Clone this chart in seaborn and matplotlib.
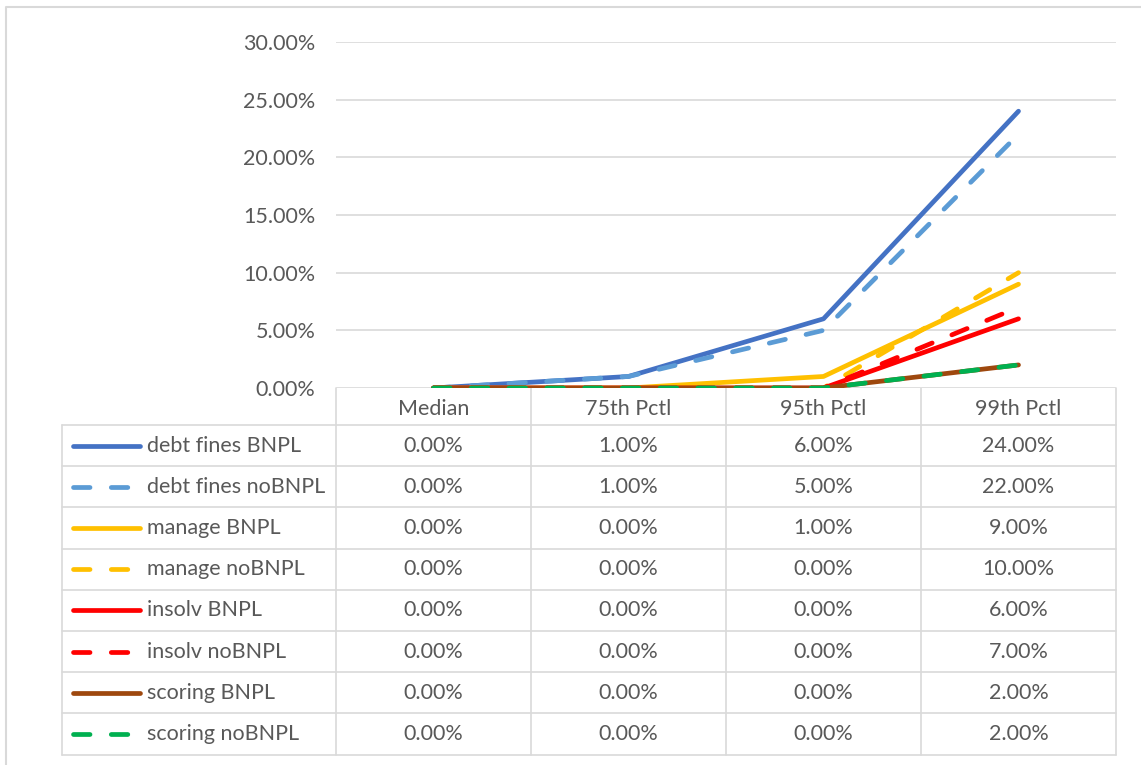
import numpy as np
import pandas as pd
import matplotlib
matplotlib.use("Agg")
import matplotlib.pyplot as plt
import seaborn as sns
from matplotlib.lines import Line2D

# Data
categories = ["Median", "75th Pctl", "95th Pctl", "99th Pctl"]
series_names = ["debt fines BNPL", "debt fines noBNPL", "manage BNPL", "manage noBNPL",
                "insolv BNPL", "insolv noBNPL", "scoring BNPL", "scoring noBNPL"]
debt_bnpl = [0.00, 0.01, 0.06, 0.24]
debt_nobnpl = [0.00, 0.01, 0.05, 0.22]
manage_bnpl = [0.00, 0.00, 0.01, 0.09]
manage_nobnpl = [0.00, 0.00, 0.00, 0.10]
insolv_bnpl = [0.00, 0.00, 0.00, 0.06]
insolv_nobnpl = [0.00, 0.00, 0.00, 0.07]
scoring_bnpl = [0.00, 0.00, 0.00, 0.02]
scoring_nobnpl = [0.00, 0.00, 0.00, 0.02]
colors = ["#4472c4", "#5b9bd5", "#ffc000", "#ffc000", "#ff0000", "#ff0000", "#9e480e", "#00b050"]
dashed = [False, True, False, True, False, True, False, True]

values = [debt_bnpl, debt_nobnpl, manage_bnpl, manage_nobnpl,
          insolv_bnpl, insolv_nobnpl, scoring_bnpl, scoring_nobnpl]
df = pd.DataFrame({"category": np.tile(categories, len(series_names)),
                   "series": np.repeat(series_names, len(categories)),
                   "value": np.concatenate(values)})

sns.set_style("white")
plt.rcParams['font.family'] = ['Lato', 'DejaVu Sans']
txt = "#595959"
grid = "#d9d9d9"
fs = 15.5
lw = 3.4

W, H = 1141, 765
fig = plt.figure(figsize=(W / 100, H / 100), dpi=100)

# pixel geometry
px_l, px_r, px_t, px_b = 336, 1116, 42, 388
ax = fig.add_axes([px_l / W, 1 - px_b / H, (px_r - px_l) / W, (px_b - px_t) / H])

dash_pat = (0, (3.5, 4.5))
for i, name in enumerate(series_names):
    sub = df[df.series == name]
    sns.lineplot(data=sub, x="category", y="value", ax=ax, color=colors[i], lw=lw,
                 linestyle=dash_pat if dashed[i] else "-", sort=False,
                 solid_capstyle="round", dash_capstyle="round", zorder=3 + i * 0.1)

ax.set_xlim(-0.5, len(categories) - 0.5)
ax.set_ylim(0, 0.30)
ax.set_yticks(np.arange(0, 0.301, 0.05))
ax.set_yticklabels([f"{v * 100:.2f}%" for v in np.arange(0, 0.301, 0.05)])
ax.yaxis.grid(True, color=grid, lw=1.2)
ax.set_xticks([])
ax.set_xlabel("")
ax.set_ylabel("")
ax.tick_params(axis="y", colors=txt, labelsize=fs, length=0, pad=15)
for s in ax.spines.values():
    s.set_visible(False)
if ax.get_legend():
    ax.get_legend().remove()

# data table below, drawn in pixel coordinates
tax = fig.add_axes([0, 0, 1, 1], zorder=-1)
tax.set_xlim(0, W)
tax.set_ylim(H, 0)
tax.axis("off")

# outer chart border
tax.plot([6, 6, W + 5], [H + 5, 7, 7], color=grid, lw=1.5)

col_x = np.linspace(px_l, px_r, len(categories) + 1)
head_b = 425
row_h = 41.2
rows_y = head_b + row_h * np.arange(len(series_names) + 1)
tab_l = 62

tax.plot([px_l, px_l], [px_b, rows_y[-1]], color=grid, lw=1.2)
for x in col_x[1:]:
    tax.plot([x, x], [px_b, rows_y[-1]], color=grid, lw=1.2)
tax.plot([tab_l, tab_l], [head_b, rows_y[-1]], color=grid, lw=1.2)
tax.plot([tab_l, px_r], [head_b, head_b], color=grid, lw=1.2)
for y in rows_y[1:]:
    tax.plot([tab_l, px_r], [y, y], color=grid, lw=1.2)

for j, c in enumerate(categories):
    tax.text((col_x[j] + col_x[j + 1]) / 2, (px_b + head_b) / 2 + 2, c,
             ha="center", va="center", fontsize=fs, color=txt)

for i, name in enumerate(series_names):
    yc = (rows_y[i] + rows_y[i + 1]) / 2
    tax.add_line(Line2D([73, 140], [yc, yc], color=colors[i], lw=lw,
                        linestyle=dash_pat if dashed[i] else "-",
                        solid_capstyle="round", dash_capstyle="round"))
    tax.text(147, yc, name, ha="left", va="center", fontsize=fs, color=txt)
    for j in range(len(categories)):
        tax.text((col_x[j] + col_x[j + 1]) / 2, yc, f"{values[i][j] * 100:.2f}%",
                 ha="center", va="center", fontsize=fs, color=txt)

fig.savefig("out.png", dpi=100)
